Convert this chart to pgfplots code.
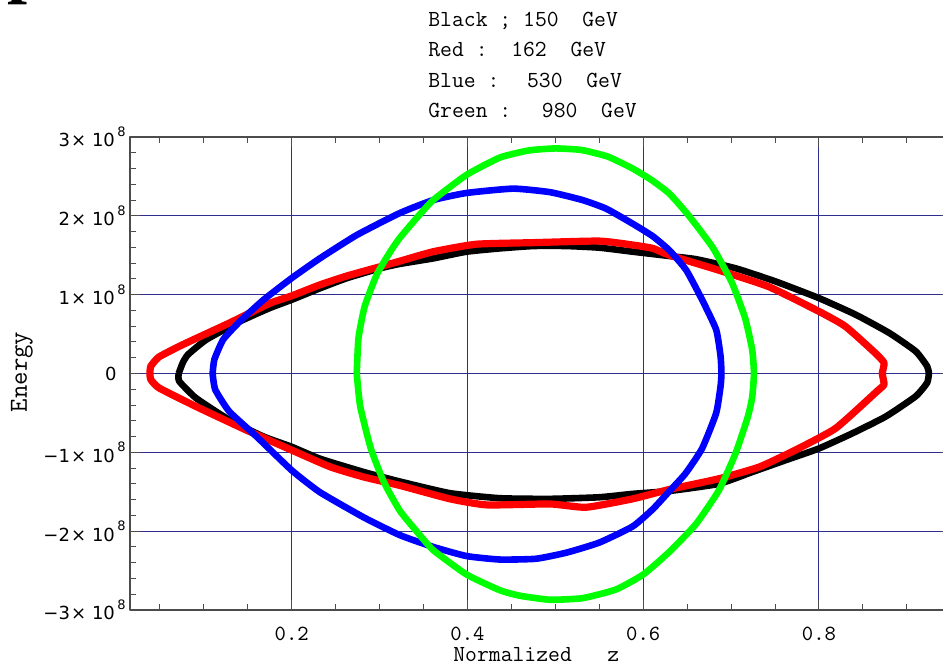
\documentclass[border=0pt]{standalone}
\usepackage{fontspec}
\newfontfamily\dvs{DejaVu Sans}
\newfontfamily\tserif{Liberation Serif}
\usepackage{pgfplots}
\pgfplotsset{compat=1.18}
\definecolor{gridnavy}{rgb}{0.18,0.18,0.55}
\definecolor{framegray}{rgb}{0.3,0.3,0.3}
\newcommand{\yl}[1]{{\dvs\fontsize{9}{9}\selectfont #1\kern0.6pt×\ 10\kern1.2pt\raisebox{1.05ex}{\fontsize{6.5}{6.5}\selectfont 8}}}
\begin{document}
\begin{tikzpicture}
\begin{axis}[
  scale only axis,
  width=410.4pt, height=236.5pt,
  xmin=0.016, xmax=0.95, ymin=-3, ymax=3,
  axis line style={framegray, line width=0.6pt},
  tick style={framegray, line width=0.5pt},
  major tick length=5pt, minor tick length=3pt,
  xtick={0.2,0.4,0.6,0.8},
  xticklabels={0.2,0.4,0.6,0.8},
  minor xtick={0.05,0.1,0.15,0.25,0.3,0.35,0.45,0.5,0.55,0.65,0.7,0.75,0.85,0.9},
  ytick={-3,-2,-1,1,2,3},
  yticklabels={\yl{−3},\yl{−2},\yl{−1},\yl{1},\yl{2},\yl{3}},
  minor ytick={-2.8,-2.6,-2.4,-2.2,-1.8,-1.6,-1.4,-1.2,-0.8,-0.6,-0.4,-0.2,0.2,0.4,0.6,0.8,1.2,1.4,1.6,1.8,2.2,2.4,2.6,2.8},
  extra y ticks={0},
  extra y tick labels={{\dvs\fontsize{9}{9}\selectfont 0}},
  extra y tick style={grid style={black, line width=0.55pt}, yticklabel style={xshift=-4.5pt}},
  xtick pos=both, ytick pos=both,
  grid=major,
  major grid style={gridnavy, line width=0.5pt},
  xticklabel style={font=\ttfamily\fontsize{10.8}{11}\selectfont, anchor=base, inner sep=0pt, yshift=-15.3pt},
  yticklabel style={anchor=east, inner sep=0pt, xshift=-2pt},
  line join=round,
]
% Black: 150 GeV
\addplot[black, line width=3.3pt, smooth, tension=0.3] coordinates {
(0.0714,0) (0.076,0.135) (0.082,0.24) (0.103,0.43) (0.141,0.66) (0.175,0.83) (0.2,0.935) (0.232,1.08) (0.263,1.21) (0.301,1.335) (0.323,1.39) (0.361,1.46) (0.399,1.545) (0.437,1.587) (0.475,1.617) (0.5125,1.617) (0.55,1.596) (0.588,1.545) (0.63,1.49) (0.66,1.45) (0.705,1.335) (0.751,1.166) (0.8,0.956) (0.842,0.745) (0.88,0.514) (0.91,0.282) (0.923,0.093) (0.925,0)
(0.923,-0.119) (0.91,-0.29) (0.876,-0.546) (0.838,-0.759) (0.8,-0.951) (0.762,-1.10) (0.724,-1.25) (0.686,-1.4) (0.63,-1.49) (0.588,-1.527) (0.55,-1.57) (0.494,-1.59) (0.437,-1.582) (0.38,-1.518) (0.323,-1.37) (0.282,-1.25) (0.232,-1.08) (0.2,-0.93) (0.168,-0.80) (0.129,-0.588) (0.091,-0.311) (0.072,-0.098) (0.0714,0)
};
% Red: 162 GeV
\addplot[red, line width=3.6pt, smooth, tension=0.3] coordinates {
(0.0386,0) (0.0397,0.093) (0.049,0.21) (0.076,0.366) (0.129,0.64) (0.175,0.89) (0.2,0.985) (0.232,1.124) (0.263,1.238) (0.301,1.356) (0.323,1.425) (0.361,1.545) (0.41,1.64) (0.475,1.66) (0.55,1.68) (0.588,1.63) (0.611,1.587) (0.63,1.5) (0.686,1.31) (0.743,1.10) (0.8,0.787) (0.83,0.598) (0.864,0.26) (0.874,0.135) (0.872,0)
(0.874,-0.14) (0.866,-0.226) (0.819,-0.695) (0.773,-0.972) (0.732,-1.186) (0.686,-1.335) (0.63,-1.47) (0.588,-1.59) (0.535,-1.697) (0.494,-1.655) (0.422,-1.667) (0.38,-1.59) (0.323,-1.42) (0.282,-1.313) (0.244,-1.185) (0.2,-0.972) (0.148,-0.716) (0.091,-0.418) (0.049,-0.183) (0.0397,-0.077) (0.0386,0)
};
% Blue: 530 GeV
\addplot[blue, line width=3.3pt, smooth, tension=0.3] coordinates {
(0.110,0) (0.112,0.177) (0.122,0.43) (0.141,0.66) (0.168,0.935) (0.2,1.21) (0.232,1.46) (0.274,1.756) (0.323,2.035) (0.361,2.2) (0.399,2.29) (0.452,2.345) (0.494,2.30) (0.531,2.2) (0.558,2.09) (0.588,1.90) (0.611,1.74) (0.63,1.56) (0.649,1.31) (0.667,0.935) (0.683,0.556) (0.688,0.219) (0.689,0)
(0.688,-0.162) (0.683,-0.503) (0.667,-0.951) (0.648,-1.27) (0.63,-1.49) (0.611,-1.72) (0.588,-1.94) (0.55,-2.145) (0.5125,-2.273) (0.478,-2.35) (0.437,-2.36) (0.399,-2.316) (0.361,-2.2) (0.323,-2.05) (0.282,-1.825) (0.232,-1.505) (0.2,-1.228) (0.16,-0.80) (0.129,-0.482) (0.113,-0.205) (0.110,0)
};
% Green: 980 GeV
\addplot[green, line width=3.3pt, smooth, tension=0.3] coordinates {
(0.274,0) (0.276,0.45) (0.283,0.85) (0.297,1.26) (0.313,1.56) (0.323,1.72) (0.342,1.97) (0.361,2.2) (0.399,2.52) (0.437,2.74) (0.47,2.83) (0.5,2.855) (0.53,2.835) (0.56,2.75) (0.588,2.6) (0.61,2.45) (0.63,2.28) (0.652,2.0) (0.679,1.6) (0.701,1.15) (0.716,0.7) (0.724,0.3) (0.726,0)
(0.724,-0.3) (0.719,-0.55) (0.705,-1.015) (0.686,-1.484) (0.66,-1.91) (0.63,-2.26) (0.6,-2.55) (0.569,-2.74) (0.531,-2.85) (0.494,-2.87) (0.46,-2.82) (0.437,-2.75) (0.399,-2.55) (0.361,-2.24) (0.342,-2.0) (0.323,-1.74) (0.305,-1.38) (0.29,-0.95) (0.278,-0.42) (0.274,0)
};
\end{axis}
\begin{scope}[every node/.style={inner sep=0pt, anchor=base west, font=\ttfamily\fontsize{11.5}{12}\selectfont}]
\node at (149pt,291.75pt) {Black~;~150~~GeV};
\node at (149pt,276.5pt) {Red~:~~162~~GeV};
\node at (149pt,261.25pt) {Blue~:~~\kern2pt 530~~GeV};
\node at (149pt,246pt) {Green~:~~\kern3.5pt 980~~GeV};
\node at (161.5pt,-26pt) {Normalized~~~z};
\end{scope}
\node[rotate=90, inner sep=0pt, font=\ttfamily\fontsize{13}{13}\selectfont] at (-54pt,119pt) {Energy};
\node[anchor=base west, inner sep=0pt, font=\tserif\bfseries\fontsize{36}{36}\selectfont] at (-61.5pt,310.3pt) {p};
\pgfresetboundingbox
\useasboundingbox (-65pt,-29.5pt) rectangle (406.5pt,305pt);
\end{tikzpicture}
\end{document}
